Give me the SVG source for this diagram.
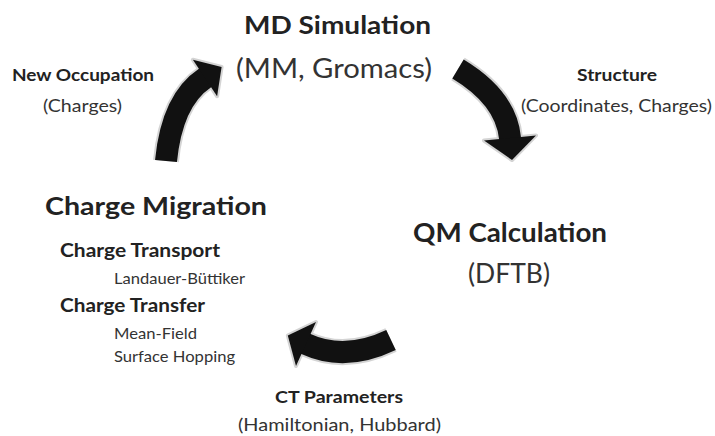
<svg xmlns="http://www.w3.org/2000/svg" xmlns:xlink="http://www.w3.org/1999/xlink" width="715" height="436" viewBox="0 0 715 436">
<style>
text{font-family:Lato,"Open Sans","Liberation Sans",sans-serif;}
.t{font-weight:700;fill:#222;}
.s{font-weight:400;fill:#333;}
.halo{fill:none;stroke:#d4d4d4;stroke-width:26;}
.haloHead{fill:#d4d4d4;stroke:#d4d4d4;stroke-width:4;stroke-linejoin:round;}
.shaft{fill:none;stroke:#111;stroke-width:22;}
.head{fill:#111;}
.lab{font-weight:700;fill:#222;}
</style>
<defs>
<path id="s1" d="M166,161 Q172,100 205,78 l1.7,-1.1"/>
<polygon id="h1" points="192.9,59.7 221.6,67 217.1,96.3"/>
<path id="s2" d="M458,69 Q506,98 510,138 l0.2,2"/>
<polygon id="h2" points="484,140.6 512,160 536,135.4"/>
<path id="s3" d="M391,340 Q345,362 306,344 l-1.8,-0.9"/>
<polygon id="h3" points="316,322 287.8,335.6 296,366"/>
</defs>
<rect width="715" height="436" fill="#fff"/>
<g id="connectors">
<g id="edge-cm-md">
<use xlink:href="#s1" class="halo"/><use xlink:href="#h1" class="haloHead"/>
<use xlink:href="#s1" class="shaft"/><use xlink:href="#h1" class="head"/>
<text class="lab" x="12" y="81" font-size="17" textLength="142" lengthAdjust="spacingAndGlyphs">New Occupation</text>
<text class="s" x="43" y="112" font-size="17" textLength="79" lengthAdjust="spacingAndGlyphs">(Charges)</text>
</g>
<g id="edge-md-qm">
<use xlink:href="#s2" class="halo"/><use xlink:href="#h2" class="haloHead"/>
<use xlink:href="#s2" class="shaft"/><use xlink:href="#h2" class="head"/>
<text class="lab" x="577" y="81" font-size="17" textLength="80" lengthAdjust="spacingAndGlyphs">Structure</text>
<text class="s" x="521" y="112" font-size="17" textLength="191" lengthAdjust="spacingAndGlyphs">(Coordinates, Charges)</text>
</g>
<g id="edge-qm-cm">
<use xlink:href="#s3" class="halo"/><use xlink:href="#h3" class="haloHead"/>
<use xlink:href="#s3" class="shaft"/><use xlink:href="#h3" class="head"/>
<text class="lab" x="275" y="403" font-size="17" textLength="128" lengthAdjust="spacingAndGlyphs">CT Parameters</text>
<text class="s" x="238" y="431" font-size="17" textLength="203" lengthAdjust="spacingAndGlyphs">(Hamiltonian, Hubbard)</text>
</g>
</g>
<g id="node-md">
<text class="t" x="244" y="34" font-size="25" textLength="187" lengthAdjust="spacingAndGlyphs">MD Simulation</text>
<text class="s" x="236" y="78" font-size="26" textLength="196" lengthAdjust="spacingAndGlyphs">(MM, Gromacs)</text>
</g>
<g id="node-qm">
<text class="t" x="413" y="242" font-size="26" textLength="194" lengthAdjust="spacingAndGlyphs">QM Calculation</text>
<text class="s" x="468" y="283" font-size="26" textLength="82" lengthAdjust="spacingAndGlyphs">(DFTB)</text>
</g>
<g id="node-cm">
<text class="t" x="45" y="215" font-size="25" textLength="222" lengthAdjust="spacingAndGlyphs">Charge Migration</text>
<text class="t" x="60" y="257" font-size="18" textLength="160" lengthAdjust="spacingAndGlyphs">Charge Transport</text>
<text class="s" x="114" y="284" font-size="15" textLength="131" lengthAdjust="spacingAndGlyphs">Landauer-Büttiker</text>
<text class="t" x="60" y="312" font-size="18" textLength="145" lengthAdjust="spacingAndGlyphs">Charge Transfer</text>
<text class="s" x="114" y="339" font-size="15" textLength="83" lengthAdjust="spacingAndGlyphs">Mean-Field</text>
<text class="s" x="114" y="362" font-size="15" textLength="121" lengthAdjust="spacingAndGlyphs">Surface Hopping</text>
</g>
</svg>
